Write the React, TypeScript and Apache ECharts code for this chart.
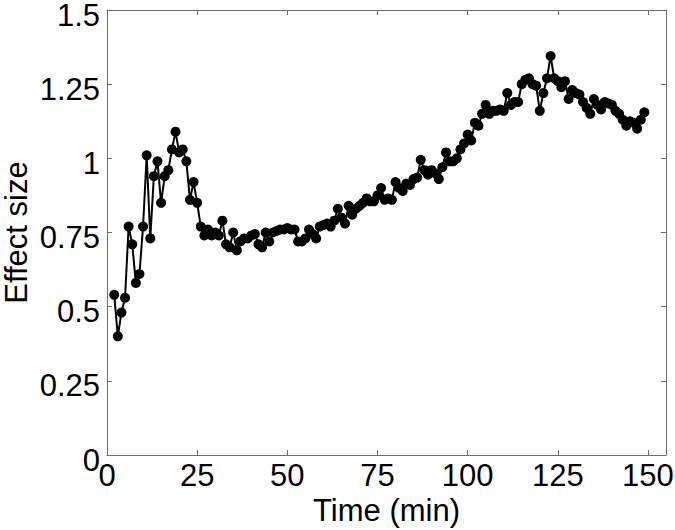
import React, { useEffect, useRef } from "react";
import * as echarts from "echarts";

// Effect size sampled once per minute, starting at minute 2
const startMinute = 2;
const effectSize = [
  0.54, 0.40, 0.48, 0.53, 0.77, 0.71, 0.58, 0.61, 0.77, 1.01,
  0.73, 0.94, 0.99, 0.85, 0.94, 0.96, 1.03, 1.09, 1.02, 1.03,
  0.99, 0.86, 0.92, 0.85, 0.77, 0.74, 0.76, 0.74, 0.75, 0.74,
  0.79, 0.71, 0.70, 0.75, 0.69, 0.72, 0.73, 0.73, 0.74, 0.745,
  0.71, 0.70, 0.75, 0.72, 0.75, 0.755, 0.76, 0.76, 0.765, 0.76,
  0.76, 0.72, 0.72, 0.73, 0.76, 0.745, 0.73, 0.77, 0.775, 0.78,
  0.77, 0.79, 0.83, 0.80, 0.78, 0.84, 0.81, 0.83, 0.84, 0.85,
  0.865, 0.855, 0.855, 0.875, 0.90, 0.86, 0.865, 0.86, 0.92, 0.90,
  0.89, 0.915, 0.91, 0.93, 0.935, 0.995, 0.96, 0.945, 0.96, 0.95,
  0.93, 0.97, 1.02, 0.99, 0.99, 1.00, 1.03, 1.05, 1.08, 1.06,
  1.12, 1.11, 1.15, 1.18, 1.15, 1.16, 1.16, 1.165, 1.16, 1.22,
  1.18, 1.19, 1.19, 1.25, 1.265, 1.27, 1.25, 1.245, 1.16, 1.22,
  1.27, 1.345, 1.27, 1.26, 1.24, 1.26, 1.20, 1.23, 1.22, 1.215,
  1.19, 1.17, 1.15, 1.20, 1.18, 1.165, 1.19, 1.185, 1.18, 1.16,
  1.15, 1.13, 1.11, 1.125, 1.12, 1.10, 1.13, 1.155,
];

const xMin = 0;
const xMax = 155;
const xStep = 25;
const yMin = 0;
const yMax = 1.5;
const yStep = 0.25;

const FONT = "'Liberation Sans', Arial, Helvetica, sans-serif";
const FS = 31;

export default function App() {
  const ref = useRef<HTMLDivElement>(null);
  useEffect(() => {
    if (!ref.current) return;
    const chart = echarts.init(ref.current, undefined, { renderer: "svg" });
    const points = effectSize.map((v, i) => [startMinute + i, v]);
    const frame = { onZero: false, lineStyle: { color: "#6e6e6e", width: 1 } };
    const tick = { inside: true, length: 5, lineStyle: { color: "#6e6e6e", width: 1 } };
    chart.setOption({
      animation: false,
      backgroundColor: "#ffffff",
      grid: {
        left: 107,
        right: 9,
        top: 10,
        bottom: 75,
        containLabel: false,
        outerBoundsMode: "none",
      },
      xAxis: [
        {
          type: "value",
          min: xMin,
          max: xMax,
          interval: xStep,
          axisLine: { show: true, ...frame },
          axisTick: tick,
          splitLine: { show: false },
          axisLabel: {
            color: "#000",
            fontFamily: FONT,
            fontSize: FS,
            margin: 5,
            showMaxLabel: false,
          },
          name: "Time (min)",
          nameLocation: "middle",
          nameGap: 40,
          nameMoveOverlap: false,
          nameTextStyle: { color: "#000", fontFamily: FONT, fontSize: FS },
        },
        {
          type: "value",
          position: "top",
          min: xMin,
          max: xMax,
          interval: xStep,
          axisLine: { show: true, ...frame },
          axisTick: tick,
          splitLine: { show: false },
          axisLabel: { show: false },
        },
      ],
      yAxis: [
        {
          type: "value",
          min: yMin,
          max: yMax,
          interval: yStep,
          axisLine: { show: true, ...frame },
          axisTick: tick,
          splitLine: { show: false },
          axisLabel: {
            color: "#000",
            fontFamily: FONT,
            fontSize: FS,
            verticalAlign: "top",
            lineHeight: 10,
            margin: 7,
          },
          name: "Effect size",
          nameLocation: "middle",
          nameGap: 75,
          nameMoveOverlap: false,
          nameTextStyle: { color: "#000", fontFamily: FONT, fontSize: FS, lineHeight: 31 },
        },
        {
          type: "value",
          position: "right",
          min: yMin,
          max: yMax,
          interval: yStep,
          axisLine: { show: true, ...frame },
          axisTick: tick,
          splitLine: { show: false },
          axisLabel: { show: false },
        },
      ],
      series: [
        {
          type: "line",
          data: points,
          symbol: "circle",
          symbolSize: 10,
          itemStyle: { color: "#000" },
          lineStyle: { color: "#000", width: 2 },
        },
      ],
    });
    return () => chart.dispose();
  }, []);
  return (
    <div
      ref={ref}
      style={{ position: "fixed", left: 0, top: 0, width: 675, height: 530, background: "#fff" }}
    />
  );
}
